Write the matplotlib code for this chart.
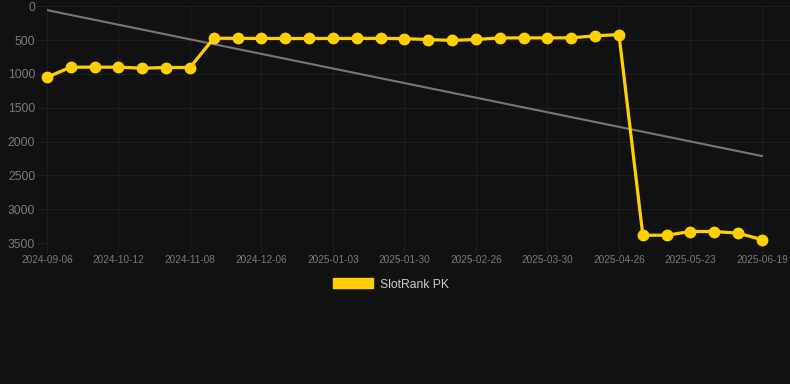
import numpy as np
import matplotlib.pyplot as plt
from matplotlib.patches import Patch

# ranking history (lower is better, axis reversed)
dates = ['2024-09-06', '2024-09-18', '2024-09-30', '2024-10-12', '2024-10-21', '2024-10-30',
         '2024-11-08', '2024-11-17', '2024-11-27', '2024-12-06', '2024-12-15', '2024-12-24',
         '2025-01-03', '2025-01-12', '2025-01-21', '2025-01-30', '2025-02-08', '2025-02-17',
         '2025-02-26', '2025-03-08', '2025-03-19', '2025-03-30', '2025-04-08', '2025-04-17',
         '2025-04-26', '2025-05-05', '2025-05-14', '2025-05-23', '2025-06-01', '2025-06-10',
         '2025-06-19']
rank = [1050, 900, 900, 900, 915, 905, 905,
        472, 474, 475, 476, 476, 475, 475, 474, 478,
        492, 505, 490, 468, 467, 467, 466, 437, 418,
        3385, 3385, 3330, 3330, 3355, 3450]
series_name = 'SlotRank PK'

bg = '#111111'
grid = '#1e1e1e'
gold = '#FFD000'

plt.rcParams['font.family'] = ['Liberation Sans', 'DejaVu Sans']

fig = plt.figure(figsize=(7.9, 3.84), dpi=100, facecolor=bg)
ax = fig.add_axes([47 / 790, 1 - 243 / 384, (790 - 47) / 790, (243 - 6.3) / 384])
ax.set_facecolor(bg)

x = np.arange(len(rank))
coef = np.polyfit(x, rank, 1)
ax.plot(x, np.polyval(coef, x), color='#777777', lw=1.5, zorder=2)

ax.plot(x, rank, color=gold, lw=2.3, marker='o', markersize=7.5,
        markerfacecolor=gold, markeredgecolor=gold, zorder=3, clip_on=False)

ax.set_ylim(3500, 0)
ax.set_yticks(range(0, 3501, 500))
ax.set_xlim(0, 30 + 28 / 23.83)
ax.set_xticks(x[::3])
ax.set_xticklabels(dates[::3])

ax.grid(True, color=grid, lw=0.8)
ax.set_axisbelow(True)
for s in ax.spines.values():
    s.set_visible(False)
ax.tick_params(axis='y', length=7.5, width=0.8, color=grid, labelcolor='#7a7a7a',
               labelsize=8.7, pad=1)
ax.tick_params(axis='x', length=7, width=0.8, color=grid, labelcolor='#7a7a7a',
               labelsize=7.2, pad=1.5)

handle = Patch(facecolor=gold, edgecolor=gold)
fig.legend([handle], [series_name], loc='center', bbox_to_anchor=(391 / 790, 1 - 284.5 / 384),
           frameon=False, fontsize=8.7, labelcolor='#cccccc',
           handlelength=3.3, handleheight=0.9, handletextpad=0.6)

fig.savefig('out.png', dpi=100, facecolor=bg)
